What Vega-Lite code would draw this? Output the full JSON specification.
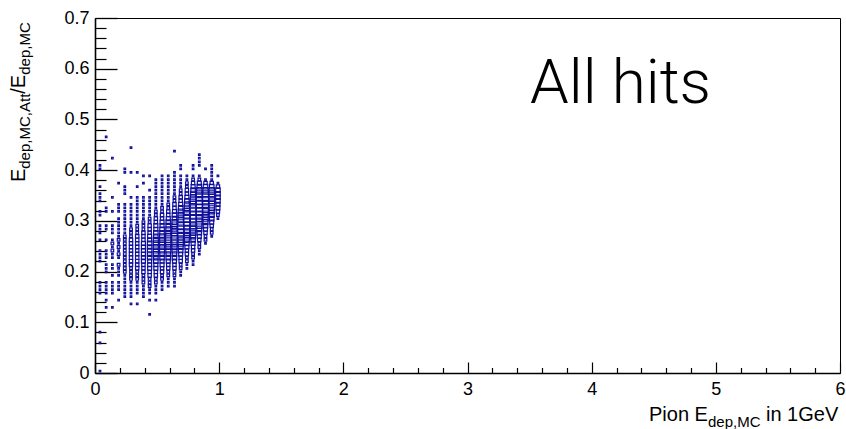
{
"$schema": "https://vega.github.io/schema/vega-lite/v6.json",
"width": 745, "height": 355,
"autosize": {"type": "none"},
"padding": {"left": 95, "top": 18, "right": 6, "bottom": 56},
"background": "white",
"config": {"view": {"stroke": "black", "strokeWidth": 1}, "font": "Liberation Sans"},
"resolve": {"axis": {"x": "independent", "y": "independent"}},
"layer": [
{
"data": {"values": [
{"x":0.04,"y":0.0035,"c":1},{"x":0.04,"y":0.0595,"c":1},{"x":0.04,"y":0.0805,"c":1},{"x":0.04,"y":0.1575,"c":1},{"x":0.04,"y":0.1645,"c":1},{"x":0.04,"y":0.1715,"c":1},{"x":0.04,"y":0.1785,"c":1},{"x":0.04,"y":0.2205,"c":1},{"x":0.04,"y":0.2275,"c":1},{"x":0.04,"y":0.2345,"c":1},{"x":0.04,"y":0.2415,"c":1},{"x":0.04,"y":0.2625,"c":1},{"x":0.04,"y":0.2765,"c":1},{"x":0.04,"y":0.2835,"c":1},{"x":0.04,"y":0.2905,"c":1},{"x":0.04,"y":0.3115,"c":1},{"x":0.04,"y":0.3185,"c":1},{"x":0.04,"y":0.3395,"c":1},{"x":0.04,"y":0.3465,"c":1},{"x":0.04,"y":0.3535,"c":1},{"x":0.04,"y":0.3675,"c":1},{"x":0.04,"y":0.4025,"c":1},{"x":0.04,"y":0.4095,"c":1},
{"x":0.09,"y":0.1295,"c":1},{"x":0.09,"y":0.1435,"c":1},{"x":0.09,"y":0.1575,"c":1},{"x":0.09,"y":0.1645,"c":1},{"x":0.09,"y":0.1715,"c":1},{"x":0.09,"y":0.1785,"c":1},{"x":0.09,"y":0.1995,"c":1},{"x":0.09,"y":0.2065,"c":1},{"x":0.09,"y":0.2135,"c":1},{"x":0.09,"y":0.2275,"c":1},{"x":0.09,"y":0.2345,"c":1},{"x":0.09,"y":0.2415,"c":1},{"x":0.09,"y":0.2625,"c":1},{"x":0.09,"y":0.2835,"c":1},{"x":0.09,"y":0.2905,"c":1},{"x":0.09,"y":0.3185,"c":1},{"x":0.09,"y":0.3255,"c":1},{"x":0.09,"y":0.4655,"c":1},
{"x":0.14,"y":0.1295,"c":1},{"x":0.14,"y":0.1575,"c":1},{"x":0.14,"y":0.1645,"c":1},{"x":0.14,"y":0.1715,"c":1},{"x":0.14,"y":0.1785,"c":1},{"x":0.14,"y":0.1925,"c":1},{"x":0.14,"y":0.2065,"c":1},{"x":0.14,"y":0.2135,"c":1},{"x":0.14,"y":0.2275,"c":1},{"x":0.14,"y":0.2345,"c":1},{"x":0.14,"y":0.2415,"c":2},{"x":0.14,"y":0.2485,"c":1},{"x":0.14,"y":0.2555,"c":2},{"x":0.14,"y":0.2625,"c":1},{"x":0.14,"y":0.2765,"c":1},{"x":0.14,"y":0.2835,"c":1},{"x":0.14,"y":0.2905,"c":1},{"x":0.14,"y":0.3185,"c":1},{"x":0.14,"y":0.3465,"c":1},{"x":0.14,"y":0.4235,"c":1},
{"x":0.19,"y":0.1435,"c":1},{"x":0.19,"y":0.1645,"c":1},{"x":0.19,"y":0.1715,"c":1},{"x":0.19,"y":0.1785,"c":1},{"x":0.19,"y":0.1925,"c":1},{"x":0.19,"y":0.1995,"c":1},{"x":0.19,"y":0.2065,"c":1},{"x":0.19,"y":0.2135,"c":2},{"x":0.19,"y":0.2275,"c":1},{"x":0.19,"y":0.2345,"c":2},{"x":0.19,"y":0.2415,"c":1},{"x":0.19,"y":0.2485,"c":2},{"x":0.19,"y":0.2555,"c":1},{"x":0.19,"y":0.2625,"c":2},{"x":0.19,"y":0.2695,"c":1},{"x":0.19,"y":0.2765,"c":1},{"x":0.19,"y":0.2835,"c":1},{"x":0.19,"y":0.2905,"c":1},{"x":0.19,"y":0.2975,"c":1},{"x":0.19,"y":0.3045,"c":1},{"x":0.19,"y":0.3185,"c":1},{"x":0.19,"y":0.3255,"c":1},{"x":0.19,"y":0.3325,"c":1},{"x":0.19,"y":0.3745,"c":1},
{"x":0.24,"y":0.1505,"c":1},{"x":0.24,"y":0.1575,"c":1},{"x":0.24,"y":0.1645,"c":1},{"x":0.24,"y":0.1715,"c":1},{"x":0.24,"y":0.1785,"c":1},{"x":0.24,"y":0.1855,"c":1},{"x":0.24,"y":0.1925,"c":1},{"x":0.24,"y":0.1995,"c":2},{"x":0.24,"y":0.2065,"c":2},{"x":0.24,"y":0.2135,"c":2},{"x":0.24,"y":0.2205,"c":2},{"x":0.24,"y":0.2275,"c":2},{"x":0.24,"y":0.2345,"c":2},{"x":0.24,"y":0.2415,"c":2},{"x":0.24,"y":0.2485,"c":2},{"x":0.24,"y":0.2555,"c":2},{"x":0.24,"y":0.2625,"c":2},{"x":0.24,"y":0.2695,"c":2},{"x":0.24,"y":0.2765,"c":1},{"x":0.24,"y":0.2835,"c":1},{"x":0.24,"y":0.2905,"c":1},{"x":0.24,"y":0.2975,"c":1},{"x":0.24,"y":0.3045,"c":1},{"x":0.24,"y":0.3115,"c":1},{"x":0.24,"y":0.3185,"c":1},{"x":0.24,"y":0.3255,"c":1},{"x":0.24,"y":0.3325,"c":1},{"x":0.24,"y":0.3535,"c":1},{"x":0.24,"y":0.3605,"c":1},{"x":0.24,"y":0.3675,"c":1},{"x":0.24,"y":0.3955,"c":1},{"x":0.24,"y":0.4025,"c":1},
{"x":0.29,"y":0.1365,"c":1},{"x":0.29,"y":0.1505,"c":1},{"x":0.29,"y":0.1575,"c":1},{"x":0.29,"y":0.1645,"c":1},{"x":0.29,"y":0.1715,"c":1},{"x":0.29,"y":0.1785,"c":1},{"x":0.29,"y":0.1855,"c":2},{"x":0.29,"y":0.1925,"c":2},{"x":0.29,"y":0.1995,"c":2},{"x":0.29,"y":0.2065,"c":2},{"x":0.29,"y":0.2135,"c":3},{"x":0.29,"y":0.2205,"c":3},{"x":0.29,"y":0.2275,"c":3},{"x":0.29,"y":0.2345,"c":3},{"x":0.29,"y":0.2415,"c":3},{"x":0.29,"y":0.2485,"c":3},{"x":0.29,"y":0.2555,"c":3},{"x":0.29,"y":0.2625,"c":3},{"x":0.29,"y":0.2695,"c":2},{"x":0.29,"y":0.2765,"c":2},{"x":0.29,"y":0.2835,"c":2},{"x":0.29,"y":0.2905,"c":1},{"x":0.29,"y":0.2975,"c":1},{"x":0.29,"y":0.3045,"c":1},{"x":0.29,"y":0.3115,"c":1},{"x":0.29,"y":0.3185,"c":1},{"x":0.29,"y":0.3255,"c":1},{"x":0.29,"y":0.3325,"c":1},{"x":0.29,"y":0.3465,"c":1},{"x":0.29,"y":0.3955,"c":1},{"x":0.29,"y":0.4445,"c":1},
{"x":0.34,"y":0.1365,"c":1},{"x":0.34,"y":0.1575,"c":1},{"x":0.34,"y":0.1645,"c":1},{"x":0.34,"y":0.1715,"c":1},{"x":0.34,"y":0.1785,"c":1},{"x":0.34,"y":0.1855,"c":2},{"x":0.34,"y":0.1925,"c":2},{"x":0.34,"y":0.1995,"c":2},{"x":0.34,"y":0.2065,"c":3},{"x":0.34,"y":0.2135,"c":3},{"x":0.34,"y":0.2205,"c":3},{"x":0.34,"y":0.2275,"c":3},{"x":0.34,"y":0.2345,"c":3},{"x":0.34,"y":0.2415,"c":3},{"x":0.34,"y":0.2485,"c":3},{"x":0.34,"y":0.2555,"c":3},{"x":0.34,"y":0.2625,"c":3},{"x":0.34,"y":0.2695,"c":3},{"x":0.34,"y":0.2765,"c":2},{"x":0.34,"y":0.2835,"c":2},{"x":0.34,"y":0.2905,"c":2},{"x":0.34,"y":0.2975,"c":1},{"x":0.34,"y":0.3045,"c":1},{"x":0.34,"y":0.3115,"c":1},{"x":0.34,"y":0.3185,"c":1},{"x":0.34,"y":0.3255,"c":1},{"x":0.34,"y":0.3325,"c":1},{"x":0.34,"y":0.3395,"c":1},{"x":0.34,"y":0.3465,"c":1},{"x":0.34,"y":0.3675,"c":1},{"x":0.34,"y":0.3955,"c":1},
{"x":0.39,"y":0.1505,"c":1},{"x":0.39,"y":0.1575,"c":1},{"x":0.39,"y":0.1645,"c":1},{"x":0.39,"y":0.1715,"c":1},{"x":0.39,"y":0.1785,"c":2},{"x":0.39,"y":0.1855,"c":2},{"x":0.39,"y":0.1925,"c":2},{"x":0.39,"y":0.1995,"c":3},{"x":0.39,"y":0.2065,"c":3},{"x":0.39,"y":0.2135,"c":3},{"x":0.39,"y":0.2205,"c":4},{"x":0.39,"y":0.2275,"c":4},{"x":0.39,"y":0.2345,"c":4},{"x":0.39,"y":0.2415,"c":4},{"x":0.39,"y":0.2485,"c":4},{"x":0.39,"y":0.2555,"c":4},{"x":0.39,"y":0.2625,"c":3},{"x":0.39,"y":0.2695,"c":3},{"x":0.39,"y":0.2765,"c":3},{"x":0.39,"y":0.2835,"c":2},{"x":0.39,"y":0.2905,"c":2},{"x":0.39,"y":0.2975,"c":2},{"x":0.39,"y":0.3045,"c":1},{"x":0.39,"y":0.3115,"c":1},{"x":0.39,"y":0.3185,"c":1},{"x":0.39,"y":0.3255,"c":1},{"x":0.39,"y":0.3325,"c":1},{"x":0.39,"y":0.3395,"c":1},{"x":0.39,"y":0.3465,"c":1},{"x":0.39,"y":0.3745,"c":1},{"x":0.39,"y":0.3885,"c":1},
{"x":0.44,"y":0.1155,"c":1},{"x":0.44,"y":0.1435,"c":1},{"x":0.44,"y":0.1575,"c":1},{"x":0.44,"y":0.1645,"c":1},{"x":0.44,"y":0.1715,"c":2},{"x":0.44,"y":0.1785,"c":2},{"x":0.44,"y":0.1855,"c":2},{"x":0.44,"y":0.1925,"c":3},{"x":0.44,"y":0.1995,"c":3},{"x":0.44,"y":0.2065,"c":4},{"x":0.44,"y":0.2135,"c":4},{"x":0.44,"y":0.2205,"c":4},{"x":0.44,"y":0.2275,"c":5},{"x":0.44,"y":0.2345,"c":5},{"x":0.44,"y":0.2415,"c":5},{"x":0.44,"y":0.2485,"c":5},{"x":0.44,"y":0.2555,"c":5},{"x":0.44,"y":0.2625,"c":4},{"x":0.44,"y":0.2695,"c":4},{"x":0.44,"y":0.2765,"c":3},{"x":0.44,"y":0.2835,"c":3},{"x":0.44,"y":0.2905,"c":3},{"x":0.44,"y":0.2975,"c":2},{"x":0.44,"y":0.3045,"c":2},{"x":0.44,"y":0.3115,"c":1},{"x":0.44,"y":0.3185,"c":1},{"x":0.44,"y":0.3255,"c":1},{"x":0.44,"y":0.3325,"c":1},{"x":0.44,"y":0.3395,"c":1},{"x":0.44,"y":0.3465,"c":1},{"x":0.44,"y":0.3605,"c":1},{"x":0.44,"y":0.3885,"c":1},
{"x":0.49,"y":0.1435,"c":1},{"x":0.49,"y":0.1575,"c":1},{"x":0.49,"y":0.1645,"c":1},{"x":0.49,"y":0.1715,"c":1},{"x":0.49,"y":0.1785,"c":2},{"x":0.49,"y":0.1855,"c":2},{"x":0.49,"y":0.1925,"c":3},{"x":0.49,"y":0.1995,"c":3},{"x":0.49,"y":0.2065,"c":4},{"x":0.49,"y":0.2135,"c":4},{"x":0.49,"y":0.2205,"c":5},{"x":0.49,"y":0.2275,"c":5},{"x":0.49,"y":0.2345,"c":6},{"x":0.49,"y":0.2415,"c":6},{"x":0.49,"y":0.2485,"c":6},{"x":0.49,"y":0.2555,"c":6},{"x":0.49,"y":0.2625,"c":6},{"x":0.49,"y":0.2695,"c":5},{"x":0.49,"y":0.2765,"c":5},{"x":0.49,"y":0.2835,"c":4},{"x":0.49,"y":0.2905,"c":4},{"x":0.49,"y":0.2975,"c":3},{"x":0.49,"y":0.3045,"c":3},{"x":0.49,"y":0.3115,"c":2},{"x":0.49,"y":0.3185,"c":2},{"x":0.49,"y":0.3255,"c":1},{"x":0.49,"y":0.3325,"c":1},{"x":0.49,"y":0.3395,"c":1},{"x":0.49,"y":0.3465,"c":1},{"x":0.49,"y":0.3535,"c":1},{"x":0.49,"y":0.3605,"c":1},{"x":0.49,"y":0.3675,"c":1},{"x":0.49,"y":0.3745,"c":1},{"x":0.49,"y":0.3815,"c":1},
{"x":0.54,"y":0.1645,"c":1},{"x":0.54,"y":0.1715,"c":1},{"x":0.54,"y":0.1785,"c":1},{"x":0.54,"y":0.1855,"c":2},{"x":0.54,"y":0.1925,"c":2},{"x":0.54,"y":0.1995,"c":3},{"x":0.54,"y":0.2065,"c":3},{"x":0.54,"y":0.2135,"c":4},{"x":0.54,"y":0.2205,"c":4},{"x":0.54,"y":0.2275,"c":5},{"x":0.54,"y":0.2345,"c":5},{"x":0.54,"y":0.2415,"c":6},{"x":0.54,"y":0.2485,"c":6},{"x":0.54,"y":0.2555,"c":6},{"x":0.54,"y":0.2625,"c":6},{"x":0.54,"y":0.2695,"c":6},{"x":0.54,"y":0.2765,"c":5},{"x":0.54,"y":0.2835,"c":5},{"x":0.54,"y":0.2905,"c":4},{"x":0.54,"y":0.2975,"c":4},{"x":0.54,"y":0.3045,"c":3},{"x":0.54,"y":0.3115,"c":3},{"x":0.54,"y":0.3185,"c":2},{"x":0.54,"y":0.3255,"c":2},{"x":0.54,"y":0.3325,"c":1},{"x":0.54,"y":0.3395,"c":1},{"x":0.54,"y":0.3465,"c":1},{"x":0.54,"y":0.3535,"c":1},{"x":0.54,"y":0.3605,"c":1},{"x":0.54,"y":0.3675,"c":1},{"x":0.54,"y":0.3745,"c":1},{"x":0.54,"y":0.3815,"c":1},{"x":0.54,"y":0.3885,"c":1},
{"x":0.59,"y":0.1715,"c":1},{"x":0.59,"y":0.1785,"c":1},{"x":0.59,"y":0.1855,"c":1},{"x":0.59,"y":0.1925,"c":2},{"x":0.59,"y":0.1995,"c":2},{"x":0.59,"y":0.2065,"c":3},{"x":0.59,"y":0.2135,"c":3},{"x":0.59,"y":0.2205,"c":4},{"x":0.59,"y":0.2275,"c":5},{"x":0.59,"y":0.2345,"c":5},{"x":0.59,"y":0.2415,"c":6},{"x":0.59,"y":0.2485,"c":6},{"x":0.59,"y":0.2555,"c":7},{"x":0.59,"y":0.2625,"c":7},{"x":0.59,"y":0.2695,"c":7},{"x":0.59,"y":0.2765,"c":6},{"x":0.59,"y":0.2835,"c":6},{"x":0.59,"y":0.2905,"c":5},{"x":0.59,"y":0.2975,"c":5},{"x":0.59,"y":0.3045,"c":4},{"x":0.59,"y":0.3115,"c":3},{"x":0.59,"y":0.3185,"c":3},{"x":0.59,"y":0.3255,"c":2},{"x":0.59,"y":0.3325,"c":2},{"x":0.59,"y":0.3395,"c":1},{"x":0.59,"y":0.3465,"c":1},{"x":0.59,"y":0.3535,"c":1},{"x":0.59,"y":0.3605,"c":1},{"x":0.59,"y":0.3675,"c":1},{"x":0.59,"y":0.3745,"c":1},{"x":0.59,"y":0.3815,"c":1},{"x":0.59,"y":0.3885,"c":1},
{"x":0.64,"y":0.1715,"c":1},{"x":0.64,"y":0.1785,"c":1},{"x":0.64,"y":0.1855,"c":1},{"x":0.64,"y":0.1925,"c":2},{"x":0.64,"y":0.1995,"c":2},{"x":0.64,"y":0.2065,"c":3},{"x":0.64,"y":0.2135,"c":3},{"x":0.64,"y":0.2205,"c":4},{"x":0.64,"y":0.2275,"c":5},{"x":0.64,"y":0.2345,"c":5},{"x":0.64,"y":0.2415,"c":6},{"x":0.64,"y":0.2485,"c":7},{"x":0.64,"y":0.2555,"c":7},{"x":0.64,"y":0.2625,"c":8},{"x":0.64,"y":0.2695,"c":8},{"x":0.64,"y":0.2765,"c":8},{"x":0.64,"y":0.2835,"c":7},{"x":0.64,"y":0.2905,"c":7},{"x":0.64,"y":0.2975,"c":6},{"x":0.64,"y":0.3045,"c":5},{"x":0.64,"y":0.3115,"c":5},{"x":0.64,"y":0.3185,"c":4},{"x":0.64,"y":0.3255,"c":3},{"x":0.64,"y":0.3325,"c":3},{"x":0.64,"y":0.3395,"c":2},{"x":0.64,"y":0.3465,"c":2},{"x":0.64,"y":0.3535,"c":1},{"x":0.64,"y":0.3605,"c":1},{"x":0.64,"y":0.3675,"c":1},{"x":0.64,"y":0.3745,"c":1},{"x":0.64,"y":0.3815,"c":1},{"x":0.64,"y":0.3885,"c":1},{"x":0.64,"y":0.3955,"c":1},{"x":0.64,"y":0.4375,"c":1},
{"x":0.69,"y":0.1925,"c":1},{"x":0.69,"y":0.1995,"c":1},{"x":0.69,"y":0.2065,"c":2},{"x":0.69,"y":0.2135,"c":2},{"x":0.69,"y":0.2205,"c":3},{"x":0.69,"y":0.2275,"c":3},{"x":0.69,"y":0.2345,"c":4},{"x":0.69,"y":0.2415,"c":5},{"x":0.69,"y":0.2485,"c":6},{"x":0.69,"y":0.2555,"c":7},{"x":0.69,"y":0.2625,"c":7},{"x":0.69,"y":0.2695,"c":8},{"x":0.69,"y":0.2765,"c":9},{"x":0.69,"y":0.2835,"c":9},{"x":0.69,"y":0.2905,"c":9},{"x":0.69,"y":0.2975,"c":8},{"x":0.69,"y":0.3045,"c":7},{"x":0.69,"y":0.3115,"c":7},{"x":0.69,"y":0.3185,"c":6},{"x":0.69,"y":0.3255,"c":5},{"x":0.69,"y":0.3325,"c":4},{"x":0.69,"y":0.3395,"c":3},{"x":0.69,"y":0.3465,"c":3},{"x":0.69,"y":0.3535,"c":2},{"x":0.69,"y":0.3605,"c":2},{"x":0.69,"y":0.3675,"c":1},{"x":0.69,"y":0.3745,"c":1},{"x":0.69,"y":0.3815,"c":1},{"x":0.69,"y":0.3885,"c":1},{"x":0.69,"y":0.4025,"c":1},{"x":0.69,"y":0.4095,"c":1},
{"x":0.74,"y":0.2065,"c":1},{"x":0.74,"y":0.2135,"c":1},{"x":0.74,"y":0.2205,"c":2},{"x":0.74,"y":0.2275,"c":2},{"x":0.74,"y":0.2345,"c":3},{"x":0.74,"y":0.2415,"c":3},{"x":0.74,"y":0.2485,"c":4},{"x":0.74,"y":0.2555,"c":5},{"x":0.74,"y":0.2625,"c":6},{"x":0.74,"y":0.2695,"c":7},{"x":0.74,"y":0.2765,"c":8},{"x":0.74,"y":0.2835,"c":9},{"x":0.74,"y":0.2905,"c":10},{"x":0.74,"y":0.2975,"c":10},{"x":0.74,"y":0.3045,"c":10},{"x":0.74,"y":0.3115,"c":9},{"x":0.74,"y":0.3185,"c":8},{"x":0.74,"y":0.3255,"c":7},{"x":0.74,"y":0.3325,"c":6},{"x":0.74,"y":0.3395,"c":5},{"x":0.74,"y":0.3465,"c":4},{"x":0.74,"y":0.3535,"c":3},{"x":0.74,"y":0.3605,"c":3},{"x":0.74,"y":0.3675,"c":2},{"x":0.74,"y":0.3745,"c":2},{"x":0.74,"y":0.3815,"c":1},{"x":0.74,"y":0.3885,"c":1},
{"x":0.79,"y":0.2135,"c":1},{"x":0.79,"y":0.2205,"c":1},{"x":0.79,"y":0.2275,"c":2},{"x":0.79,"y":0.2345,"c":2},{"x":0.79,"y":0.2415,"c":3},{"x":0.79,"y":0.2485,"c":3},{"x":0.79,"y":0.2555,"c":4},{"x":0.79,"y":0.2625,"c":5},{"x":0.79,"y":0.2695,"c":6},{"x":0.79,"y":0.2765,"c":7},{"x":0.79,"y":0.2835,"c":8},{"x":0.79,"y":0.2905,"c":8},{"x":0.79,"y":0.2975,"c":9},{"x":0.79,"y":0.3045,"c":10},{"x":0.79,"y":0.3115,"c":10},{"x":0.79,"y":0.3185,"c":10},{"x":0.79,"y":0.3255,"c":9},{"x":0.79,"y":0.3325,"c":8},{"x":0.79,"y":0.3395,"c":8},{"x":0.79,"y":0.3465,"c":7},{"x":0.79,"y":0.3535,"c":6},{"x":0.79,"y":0.3605,"c":5},{"x":0.79,"y":0.3675,"c":4},{"x":0.79,"y":0.3745,"c":3},{"x":0.79,"y":0.3815,"c":2},{"x":0.79,"y":0.3885,"c":1},{"x":0.79,"y":0.4025,"c":1},{"x":0.79,"y":0.4095,"c":1},
{"x":0.84,"y":0.2345,"c":1},{"x":0.84,"y":0.2415,"c":1},{"x":0.84,"y":0.2485,"c":2},{"x":0.84,"y":0.2555,"c":2},{"x":0.84,"y":0.2625,"c":3},{"x":0.84,"y":0.2695,"c":4},{"x":0.84,"y":0.2765,"c":5},{"x":0.84,"y":0.2835,"c":6},{"x":0.84,"y":0.2905,"c":7},{"x":0.84,"y":0.2975,"c":8},{"x":0.84,"y":0.3045,"c":8},{"x":0.84,"y":0.3115,"c":9},{"x":0.84,"y":0.3185,"c":10},{"x":0.84,"y":0.3255,"c":10},{"x":0.84,"y":0.3325,"c":10},{"x":0.84,"y":0.3395,"c":10},{"x":0.84,"y":0.3465,"c":9},{"x":0.84,"y":0.3535,"c":8},{"x":0.84,"y":0.3605,"c":7},{"x":0.84,"y":0.3675,"c":5},{"x":0.84,"y":0.3745,"c":4},{"x":0.84,"y":0.3815,"c":2},{"x":0.84,"y":0.3885,"c":1},{"x":0.84,"y":0.4095,"c":1},{"x":0.84,"y":0.4165,"c":1},{"x":0.84,"y":0.4235,"c":1},{"x":0.84,"y":0.4305,"c":1},
{"x":0.89,"y":0.2555,"c":1},{"x":0.89,"y":0.2625,"c":2},{"x":0.89,"y":0.2695,"c":2},{"x":0.89,"y":0.2765,"c":3},{"x":0.89,"y":0.2835,"c":4},{"x":0.89,"y":0.2905,"c":5},{"x":0.89,"y":0.2975,"c":6},{"x":0.89,"y":0.3045,"c":7},{"x":0.89,"y":0.3115,"c":7},{"x":0.89,"y":0.3185,"c":8},{"x":0.89,"y":0.3255,"c":9},{"x":0.89,"y":0.3325,"c":9},{"x":0.89,"y":0.3395,"c":9},{"x":0.89,"y":0.3465,"c":9},{"x":0.89,"y":0.3535,"c":8},{"x":0.89,"y":0.3605,"c":7},{"x":0.89,"y":0.3675,"c":5},{"x":0.89,"y":0.3745,"c":3},{"x":0.89,"y":0.3815,"c":1},{"x":0.89,"y":0.4025,"c":1},
{"x":0.94,"y":0.2695,"c":1},{"x":0.94,"y":0.2765,"c":2},{"x":0.94,"y":0.2835,"c":2},{"x":0.94,"y":0.2905,"c":3},{"x":0.94,"y":0.2975,"c":4},{"x":0.94,"y":0.3045,"c":5},{"x":0.94,"y":0.3115,"c":6},{"x":0.94,"y":0.3185,"c":6},{"x":0.94,"y":0.3255,"c":7},{"x":0.94,"y":0.3325,"c":8},{"x":0.94,"y":0.3395,"c":8},{"x":0.94,"y":0.3465,"c":8},{"x":0.94,"y":0.3535,"c":8},{"x":0.94,"y":0.3605,"c":7},{"x":0.94,"y":0.3675,"c":5},{"x":0.94,"y":0.3745,"c":3},{"x":0.94,"y":0.3815,"c":1},{"x":0.94,"y":0.3885,"c":1},{"x":0.94,"y":0.3955,"c":1},{"x":0.94,"y":0.4025,"c":1},{"x":0.94,"y":0.4095,"c":1},
{"x":0.99,"y":0.3045,"c":1},{"x":0.99,"y":0.3115,"c":2},{"x":0.99,"y":0.3185,"c":3},{"x":0.99,"y":0.3255,"c":4},{"x":0.99,"y":0.3325,"c":4},{"x":0.99,"y":0.3395,"c":5},{"x":0.99,"y":0.3465,"c":5},{"x":0.99,"y":0.3535,"c":5},{"x":0.99,"y":0.3605,"c":5},{"x":0.99,"y":0.3675,"c":3},{"x":0.99,"y":0.3745,"c":1},{"x":0.99,"y":0.3885,"c":1}
]},
"mark": {"type": "point", "shape": "square", "filled": false, "strokeWidth": 1.2, "color": "#0f0f9c", "opacity": 1},
"encoding": {
"x": {"field": "x", "type": "quantitative", "scale": {"domain": [0, 6], "nice": false, "zero": false},
 "axis": {"orient": "bottom", "values": [0,1,2,3,4,5,6], "format": "d", "tickSize": -11, "tickWidth": 1.2, "tickColor": "black", "domainColor": "black", "domainWidth": 1.6, "labelFontSize": 18, "labelColor": "black", "labelFont": "Liberation Sans", "labelPadding": 18, "labelFlush": false, "labelOverlap": false, "grid": false, "title": null}},
"y": {"field": "y", "type": "quantitative", "scale": {"domain": [0, 0.7], "nice": false, "zero": false},
 "axis": {"orient": "left", "values": [0,0.1,0.2,0.3,0.4,0.5,0.6,0.7], "format": "~g", "tickSize": -22, "tickWidth": 1.3, "tickColor": "black", "domainColor": "black", "domainWidth": 1.6, "labelFontSize": 18, "labelColor": "black", "labelFont": "Liberation Sans", "labelPadding": 28, "labelOverlap": false, "grid": false, "title": null}},
"size": {"field": "c", "type": "quantitative", "scale": {"domain": [1, 10], "range": [2.5, 42]}, "legend": null}
}
},
{
"data": {"values": []},
"mark": {"type": "point", "opacity": 0},
"encoding": {
"x": {"field": "x", "type": "quantitative", "axis": {"orient": "bottom", "values": [0.2,0.4,0.6,0.8,1.2,1.4,1.6,1.8,2.2,2.4,2.6,2.8,3.2,3.4,3.6,3.8,4.2,4.4,4.6,4.8,5.2,5.4,5.6,5.8], "tickSize": -5.5, "tickWidth": 1.2, "tickColor": "black", "labels": false, "domain": false, "grid": false, "title": null}},
"y": {"field": "y", "type": "quantitative", "axis": {"orient": "left", "values": [0.02,0.04,0.06,0.08,0.12,0.14,0.16,0.18,0.22,0.24,0.26,0.28,0.32,0.34,0.36,0.38,0.42,0.44,0.46,0.48,0.52,0.54,0.56,0.58,0.62,0.64,0.66,0.68], "tickSize": -11, "tickWidth": 1.2, "tickColor": "black", "labels": false, "domain": false, "grid": false, "title": null}}
}
},
{
"data": {"values": [{}]},
"mark": {"type": "text", "text": "All hits", "font": "Roboto", "fontWeight": 300, "fontSize": 62, "align": "left", "baseline": "alphabetic", "color": "black"},
"encoding": {"x": {"datum": 3.503, "type": "quantitative", "axis": null}, "y": {"datum": 0.5324, "type": "quantitative", "axis": null}}
},
{
"data": {"values": [{}]},
"mark": {"type": "text", "text": "E", "fontSize": 20, "angle": 270, "align": "left", "baseline": "alphabetic", "color": "black"},
"encoding": {"x": {"datum": -0.5638, "type": "quantitative", "axis": null}, "y": {"datum": 0.3766, "type": "quantitative", "axis": null}}
},
{
"data": {"values": [{}]},
"mark": {"type": "text", "text": "dep,MC,Att", "fontSize": 15, "angle": 270, "align": "left", "baseline": "alphabetic", "color": "black"},
"encoding": {"x": {"datum": -0.5235, "type": "quantitative", "axis": null}, "y": {"datum": 0.4028, "type": "quantitative", "axis": null}}
},
{
"data": {"values": [{}]},
"mark": {"type": "text", "text": "/E", "fontSize": 20, "angle": 270, "align": "left", "baseline": "alphabetic", "color": "black"},
"encoding": {"x": {"datum": -0.5638, "type": "quantitative", "axis": null}, "y": {"datum": 0.5507, "type": "quantitative", "axis": null}}
},
{
"data": {"values": [{}]},
"mark": {"type": "text", "text": "dep,MC", "fontSize": 15, "angle": 270, "align": "left", "baseline": "alphabetic", "color": "black"},
"encoding": {"x": {"datum": -0.5235, "type": "quantitative", "axis": null}, "y": {"datum": 0.588, "type": "quantitative", "axis": null}}
},
{
"data": {"values": [{}]},
"mark": {"type": "text", "text": "Pion E", "fontSize": 20, "align": "left", "baseline": "alphabetic", "color": "black"},
"encoding": {"x": {"datum": 4.4618, "type": "quantitative", "axis": null}, "y": {"datum": -0.0946, "type": "quantitative", "axis": null}}
},
{
"data": {"values": [{}]},
"mark": {"type": "text", "text": "dep,MC", "fontSize": 15, "align": "left", "baseline": "alphabetic", "color": "black"},
"encoding": {"x": {"datum": 4.937, "type": "quantitative", "axis": null}, "y": {"datum": -0.1065, "type": "quantitative", "axis": null}}
},
{
"data": {"values": [{}]},
"mark": {"type": "text", "text": "in 1GeV", "fontSize": 20, "align": "left", "baseline": "alphabetic", "color": "black"},
"encoding": {"x": {"datum": 5.404, "type": "quantitative", "axis": null}, "y": {"datum": -0.0946, "type": "quantitative", "axis": null}}
}
]
}
